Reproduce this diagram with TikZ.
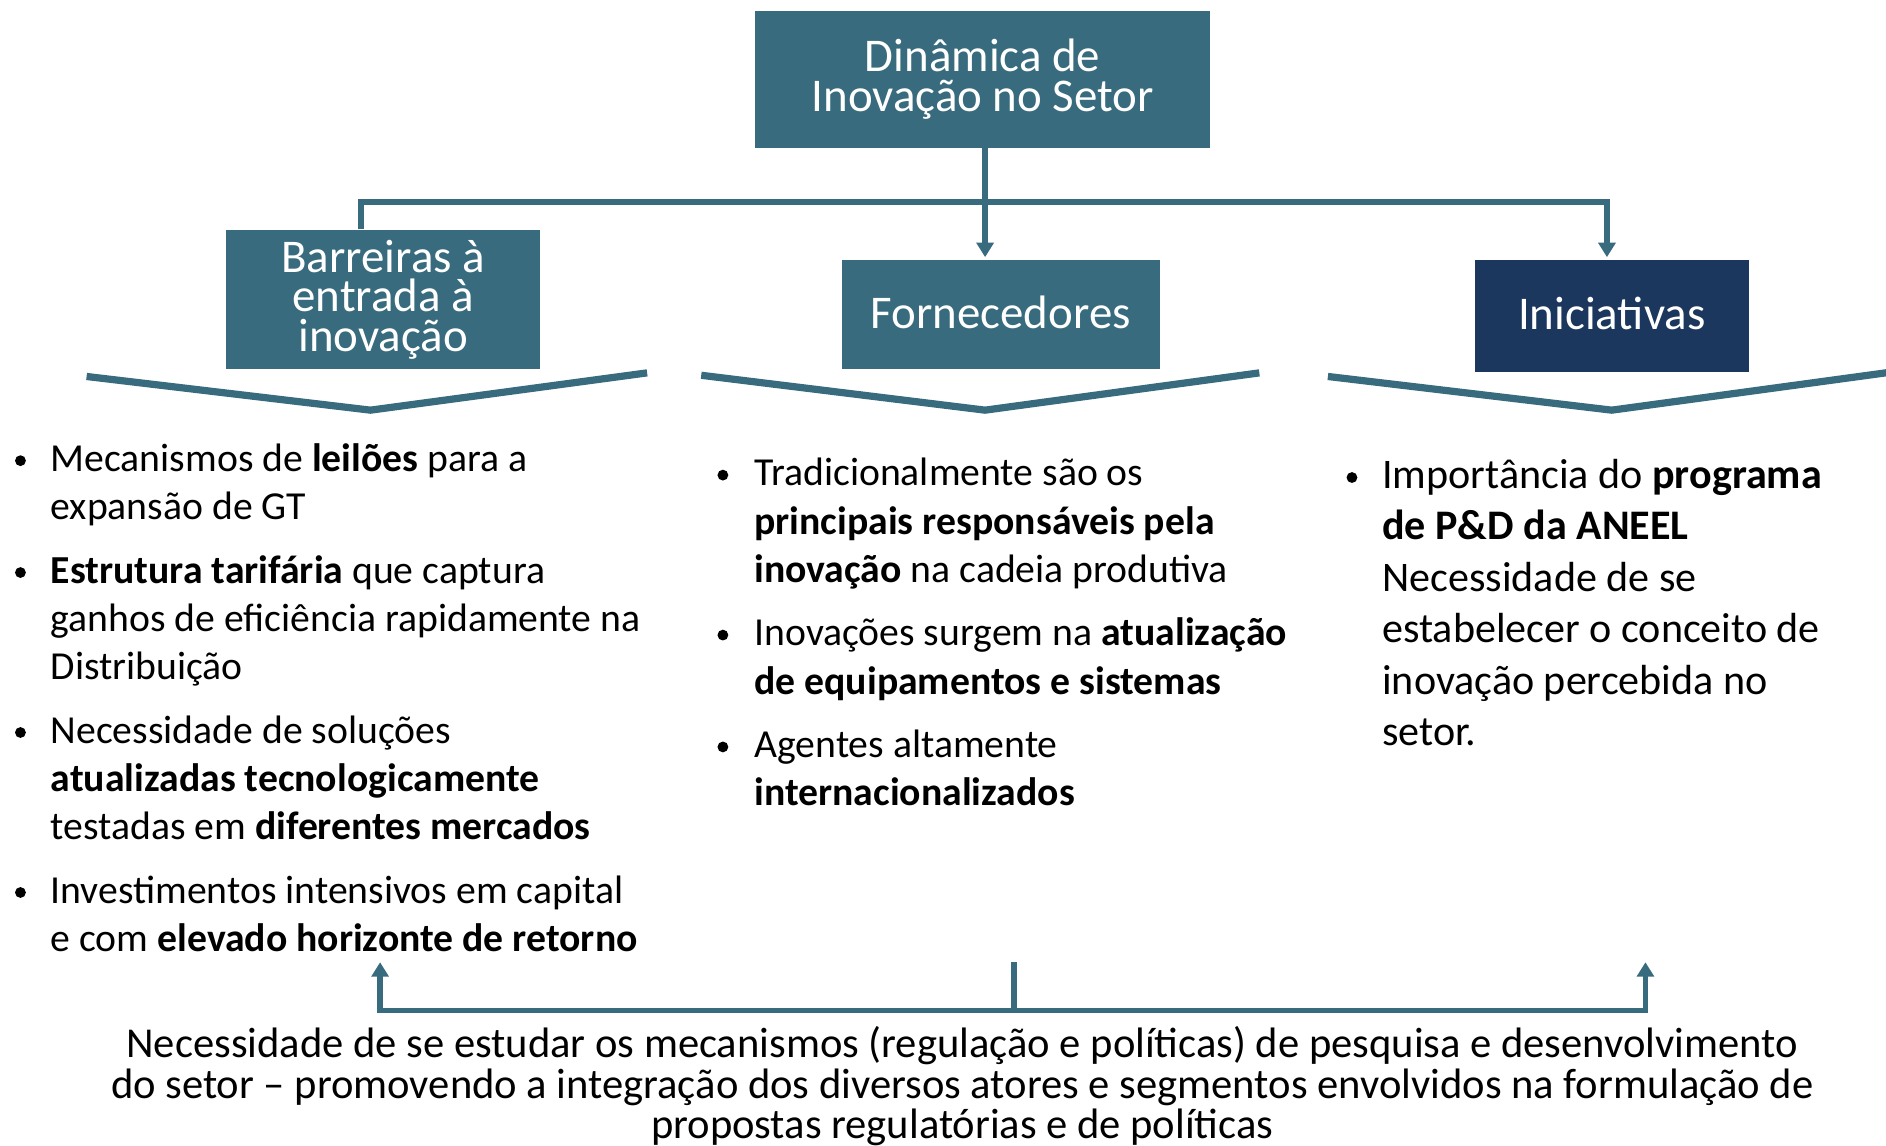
\documentclass[tikz,border=0pt]{standalone}
\usepackage{fontspec}
\setmainfont{Carlito}
\usetikzlibrary{arrows.meta}
\definecolor{tealA}{HTML}{386B7D}
\definecolor{navyA}{HTML}{1B375D}
\begin{document}
\begin{tikzpicture}[x=1pt,y=-1pt,
 box/.style={fill=tealA, text=white, align=center, inner sep=0pt, font=\fontsize{39}{33}\selectfont},
 conn/.style={draw=tealA, line width=4.5pt},
 chev/.style={draw=tealA, line width=6pt},
 body/.style={anchor=base west, inner sep=0pt, font=\fontsize{33}{40}\selectfont},
 bodyR/.style={anchor=base west, inner sep=0pt, font=\fontsize{35}{42}\selectfont},
 dot/.style={circle, fill=black, inner sep=0pt, minimum size=9pt},
 tipA/.tip={Triangle[width=14pt,length=12pt]},
]
\useasboundingbox (0,0) rectangle (1568,952);

% boxes
\node[box, minimum width=378pt, minimum height=114pt] (top) at (817,66) {Dinâmica de\\Inovação no Setor};
\node[box, minimum width=261pt, minimum height=116pt] (barr) at (318.5,249) {Barreiras à\\entrada à\\inovação};
\node[box, minimum width=264pt, minimum height=91pt, text depth=4pt] (forn) at (832,261.5) {Fornecedores};
\node[box, fill=navyA, minimum width=228pt, minimum height=93pt, text depth=4pt] (inic) at (1340,262.5) {Iniciativas};

% top connectors
\coordinate (hl) at (300,168);
\coordinate (hr) at (1336,168);
\coordinate (tv) at (819,123);
\draw[conn, -tipA, shorten >=2pt] (barr.north -| hl) -- (hl) -- (hr) -- (hr |- inic.north);
\draw[conn, -tipA, shorten >=2pt] (tv) -- (tv |- forn.north);

% chevrons
\draw[chev] (72,313) -- (308,341) -- (538,310);
\draw[chev] (583,312) -- (819,341) -- (1047,310);
\draw[chev] (1104,313) -- (1340,341) -- (1575,309);

% left column
\node[dot] (lb1) at (17,383) {};
\node[body] (l1) at (42,392) {Mecanismos de \textbf{leilões} para a};
\node[body] (l2) at (42,432) {expansão de GT};
\node[dot] (lb2) at (17,476) {};
\node[body] (l3) at (42,485) {\textbf{Estrutura tarifária} que captura};
\node[body] (l4) at (42,525) {ganhos de eficiência rapidamente na};
\node[body] (l5) at (42,565) {Distribuição};
\node[dot] (lb3) at (17,609) {};
\node[body] (l6) at (42,618) {Necessidade de soluções};
\node[body] (l7) at (42,658) {\textbf{atualizadas tecnologicamente}};
\node[body] (l8) at (42,698) {testadas em \textbf{diferentes mercados}};
\node[dot] (lb4) at (17,742) {};
\node[body] (l9) at (42,751) {Investimentos intensivos em capital};
\node[body] (l10) at (42,791) {e com \textbf{elevado horizonte de retorno}};

% middle column
\node[dot] (mb1) at (601,395) {};
\node[body] (m1) at (627,404) {Tradicionalmente são os};
\node[body] (m2) at (627,444) {\textbf{principais responsáveis pela}};
\node[body] (m3) at (627,484) {\textbf{inovação} na cadeia produtiva};
\node[dot] (mb2) at (601,528) {};
\node[body] (m4) at (627,537) {Inovações surgem na \textbf{atualização}};
\node[body] (m5) at (627,577) {\textbf{de equipamentos e sistemas}};
\node[dot] (mb3) at (601,621) {};
\node[body] (m6) at (627,630) {Agentes altamente};
\node[body] (m7) at (627,670) {\textbf{internacionalizados}};

% right column
\node[dot] (rb1) at (1124,397) {};
\node[bodyR] (r1) at (1149,406.5) {Importância do \textbf{programa}};
\node[bodyR] (r2) at (1149,448.5) {\textbf{de P\&D da ANEEL}};
\node[bodyR] (r3) at (1149,491.5) {Necessidade de se};
\node[bodyR] (r4) at (1149,534.5) {estabelecer o conceito de};
\node[bodyR] (r5) at (1149,577.5) {inovação percebida no};
\node[bodyR] (r6) at (1149,619.5) {setor.};

% bottom
\coordinate (bstub) at (843,800);
\coordinate (bmid) at (843,840);
\coordinate (bl) at (316,840);
\coordinate (br) at (1368,840);
\coordinate (blt) at (316,800);
\coordinate (brt) at (1368,800);
\draw[conn] (bstub) -- (bmid);
\draw[conn, tipA-tipA] (blt) -- (bl) -- (br) -- (brt);
\node[font=\fontsize{35.4}{33.5}\selectfont, align=center, inner sep=0pt] (bot) at (800,903) {Necessidade de se estudar os mecanismos (regulação e políticas) de pesquisa e desenvolvimento\\do setor – promovendo a integração dos diversos atores e segmentos envolvidos na formulação de\\propostas regulatórias e de políticas};
\end{tikzpicture}
\end{document}
